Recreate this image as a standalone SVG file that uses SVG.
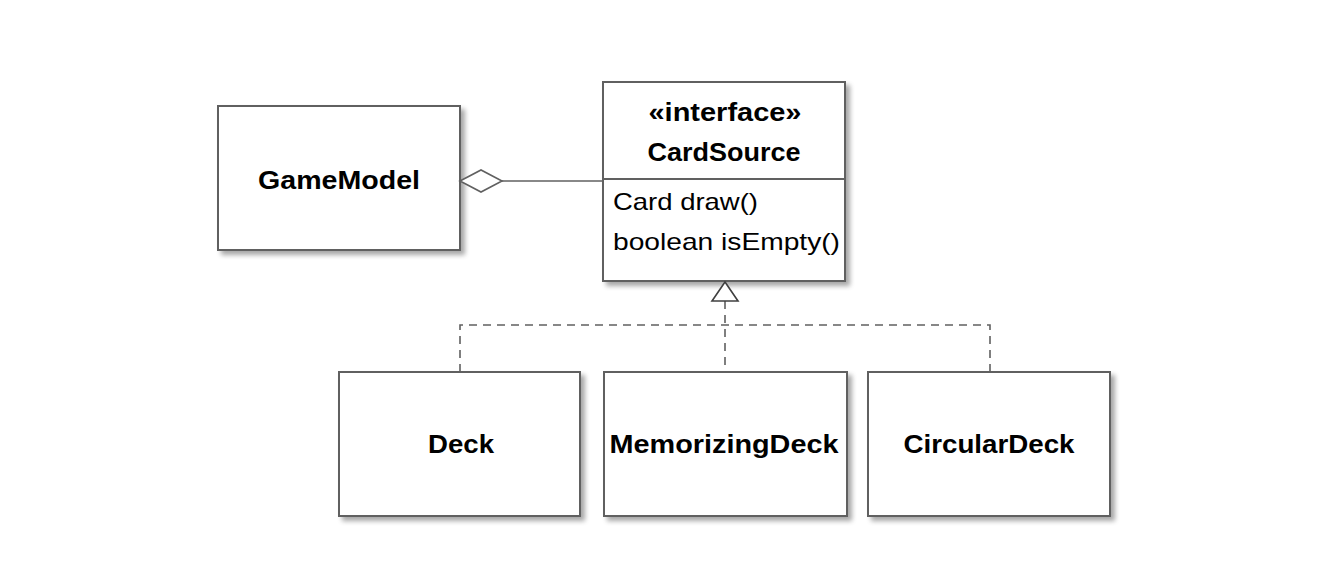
<svg xmlns="http://www.w3.org/2000/svg" width="1334" height="562" viewBox="0 0 1334 562">
<defs>
<filter id="sh" x="-10%" y="-10%" width="130%" height="130%">
<feGaussianBlur in="SourceAlpha" stdDeviation="2.5"/>
<feOffset dx="4" dy="4" result="b"/>
<feComponentTransfer><feFuncA type="linear" slope="0.35"/></feComponentTransfer>
<feMerge><feMergeNode/><feMergeNode in="SourceGraphic"/></feMerge>
</filter>
</defs>
<style>
.box{fill:#fff;stroke:#606060;stroke-width:2;filter:url(#sh)}
.t{font-family:"Liberation Sans",Arial,sans-serif;font-size:26px;font-weight:bold;fill:#000;text-anchor:middle}
.m{font-family:"Liberation Sans",Arial,sans-serif;font-size:24px;fill:#000}
.c{fill:none;stroke:#606060;stroke-width:1.6}
.d{fill:none;stroke:#606060;stroke-width:1.6;stroke-dasharray:8 6}
</style>
<rect width="1334" height="562" fill="#fff"/>
<g id="GameModel">
<rect class="box" x="218" y="106" width="242" height="144"/>
<text class="t" x="339" y="189" textLength="162" lengthAdjust="spacingAndGlyphs">GameModel</text>
</g>
<g id="CardSource">
<rect class="box" x="603" y="82" width="242" height="199"/>
<line x1="603" y1="179" x2="845" y2="179" stroke="#606060" stroke-width="2"/>
<text class="t" x="725" y="121" textLength="153" lengthAdjust="spacingAndGlyphs">«interface»</text>
<text class="t" x="724" y="161" textLength="153" lengthAdjust="spacingAndGlyphs">CardSource</text>
<text class="m" x="613" y="210" textLength="145" lengthAdjust="spacingAndGlyphs">Card draw()</text>
<text class="m" x="613" y="250" textLength="227" lengthAdjust="spacingAndGlyphs">boolean isEmpty()</text>
</g>
<g id="Deck">
<rect class="box" x="339" y="372" width="241" height="144"/>
<text class="t" x="461" y="453" textLength="66" lengthAdjust="spacingAndGlyphs">Deck</text>
</g>
<g id="MemorizingDeck">
<rect class="box" x="604" y="372" width="243" height="144"/>
<text class="t" x="724" y="453" textLength="229" lengthAdjust="spacingAndGlyphs">MemorizingDeck</text>
</g>
<g id="CircularDeck">
<rect class="box" x="868" y="372" width="242" height="144"/>
<text class="t" x="989" y="453" textLength="171" lengthAdjust="spacingAndGlyphs">CircularDeck</text>
</g>
<g id="connectors">
<line class="c" x1="502" y1="181" x2="603" y2="181"/>
<polygon points="460,181 481,170 502,181 481,192" fill="#fff" stroke="#606060" stroke-width="1.6"/>
<polyline class="d" points="460,372 460,325 990,325 990,372"/>
<line class="d" x1="725" y1="301" x2="725" y2="372"/>
<polygon points="725,282 712,301 738,301" fill="#fff" stroke="#404040" stroke-width="1.6"/>
</g>
</svg>
